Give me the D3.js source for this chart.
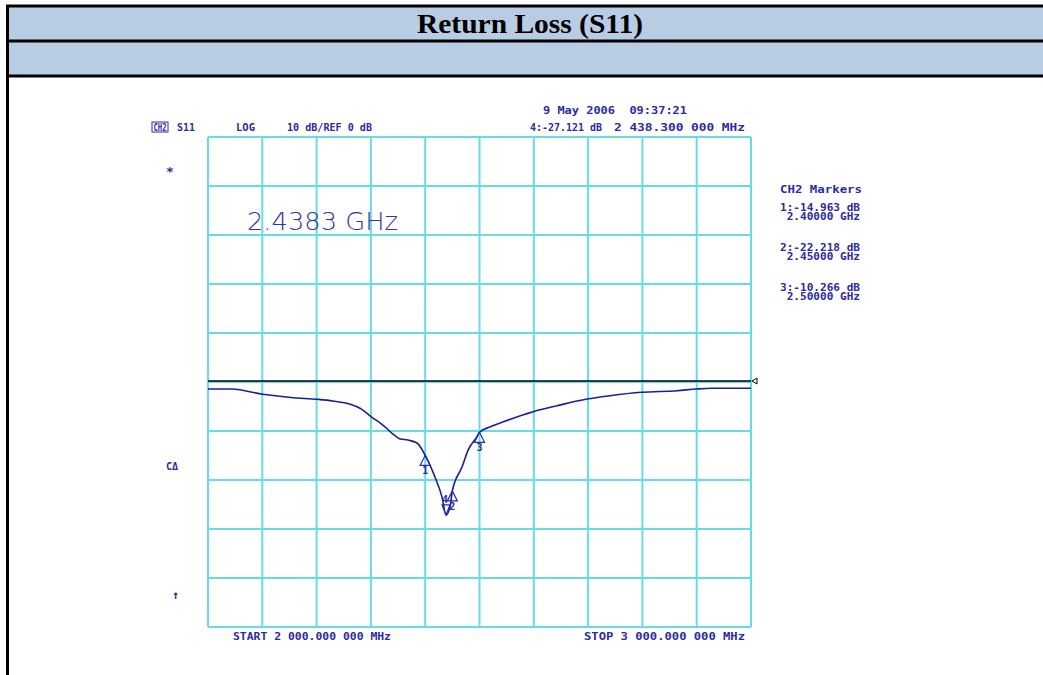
<!DOCTYPE html>
<html>
<head>
<meta charset="utf-8">
<script src="https://cdn.jsdelivr.net/npm/d3@7"></script>
<style>
  body { margin: 0; background: #fff; }
  text { white-space: pre; }
</style>
</head>
<body>
<div id="chart"></div>
<script>
// trace (GHz / dB)
var freqGHz = [2.000, 2.044, 2.101, 2.157, 2.201, 2.230, 2.262, 2.280, 2.302, 2.322, 2.339, 2.354,
  2.368, 2.385, 2.400, 2.418, 2.431, 2.4383, 2.4457, 2.450, 2.468, 2.479, 2.495, 2.500, 2.519,
  2.543, 2.599, 2.643, 2.698, 2.740, 2.799, 2.864, 2.900, 2.928, 3.000];
var s11dB = [-1.43, -1.43, -2.51, -3.20, -3.53, -3.88, -4.55, -5.37, -7.20, -8.78, -10.47, -11.63,
  -11.84, -12.45, -14.963, -19.4, -23.5, -27.121, -25.5, -22.218, -17.3, -13.9, -11.2, -10.266, -9.18,
  -8.16, -6.06, -4.84, -3.47, -2.80, -2.10, -1.78, -1.43, -1.29, -1.29];

var markerIds = ["1", "2", "3"];
var markerFreq = [2.40, 2.45, 2.50];
var markerDb = [-14.963, -22.218, -10.266];
var activeMarker = { id: "4", freq: 2.4383, db: -27.121 };

var gridFreq = [2.0, 2.1, 2.2, 2.3, 2.4, 2.5, 2.6, 2.7, 2.8, 2.9, 3.0];
var gridDb = [50, 40, 30, 20, 10, 0, -10, -20, -30, -40, -50];

var markerLines = [
  ["1:-14.963 dB", " 2.40000 GHz"],
  ["2:-22.218 dB", " 2.45000 GHz"],
  ["3:-10.266 dB", " 2.50000 GHz"]
];

var width = 1043, height = 675;
var blue = "#2a2aa6";
var mono = "'DejaVu Sans Mono', monospace";

var svg = d3.select("#chart").append("svg").attr("width", width).attr("height", height);

// table header
svg.append("rect").attr("x", 7).attr("y", 6).attr("width", 1040).attr("height", 70).attr("fill", "#b8cce4");
svg.append("text").attr("x", 417).attr("y", 33)
  .attr("textLength", 226).attr("lengthAdjust", "spacingAndGlyphs")
  .style("font-family", "'Liberation Serif', serif").style("font-weight", "bold").style("font-size", "27px")
  .text("Return Loss (S11)");
[6, 41, 76].forEach(function(yy) {
  svg.append("line").attr("x1", 6).attr("x2", 1043).attr("y1", yy).attr("y2", yy)
    .attr("stroke", "#000").attr("stroke-width", 3);
});
svg.append("line").attr("x1", 7.5).attr("x2", 7.5).attr("y1", 5).attr("y2", height)
  .attr("stroke", "#000").attr("stroke-width", 3);

// scales
var x = d3.scaleLinear().domain([2, 3]).range([208, 751]);
var y = d3.scaleLinear().domain([50, -50]).range([137, 627]);

// grid
var grid = svg.append("g").attr("stroke", "#66dde4").attr("stroke-width", 2);
grid.selectAll(".v").data(gridFreq).enter().append("line")
  .attr("x1", function(d) { return x(d); }).attr("x2", function(d) { return x(d); })
  .attr("y1", y(50)).attr("y2", y(-50));
grid.selectAll(".h").data(gridDb).enter().append("line")
  .attr("x1", x(2)).attr("x2", x(3))
  .attr("y1", function(d) { return y(d); }).attr("y2", function(d) { return y(d); });

// reference line
svg.append("line").attr("x1", x(2)).attr("x2", x(3)).attr("y1", y(0) - 1).attr("y2", y(0) - 1)
  .attr("stroke", "#000").attr("stroke-width", 1.3);
svg.append("path")
  .attr("d", "M" + (x(3) + 1) + "," + (y(0) - 1) + " l5,-3 v6 z")
  .attr("fill", "#fff").attr("stroke", "#000").attr("stroke-width", 1);

// trace
var line = d3.line()
  .x(function(d, i) { return x(freqGHz[i]); })
  .y(function(d) { return y(d); })
  .curve(d3.curveMonotoneX);
svg.append("path").datum(s11dB).attr("d", line)
  .attr("fill", "none").attr("stroke", "#1c1c9c").attr("stroke-width", 1.6);

// markers
var mk = svg.append("g");
markerIds.forEach(function(id, i) {
  var mx = x(markerFreq[i]), my = y(markerDb[i]);
  mk.append("path").attr("d", "M" + mx + "," + my + " l-5,10 h10 z")
    .attr("fill", "none").attr("stroke", blue).attr("stroke-width", 1.2);
  mk.append("text").attr("x", mx).attr("y", my + 19).attr("text-anchor", "middle")
    .style("font-family", mono).style("font-size", "10px").style("font-weight", "bold")
    .attr("fill", blue).text(id);
});
var ax = x(activeMarker.freq), ay = y(activeMarker.db);
mk.append("path").attr("d", "M" + ax + "," + ay + " l-4,-10 h8 z")
  .attr("fill", "none").attr("stroke", blue).attr("stroke-width", 1.2);
mk.append("text").attr("x", ax - 1).attr("y", ay - 12).attr("text-anchor", "middle")
  .style("font-family", mono).style("font-size", "10px").style("font-weight", "bold")
  .attr("fill", blue).text(activeMarker.id);

// instrument annotations
function label(tx, ty, str, size, len) {
  var t = svg.append("text").attr("x", tx).attr("y", ty).attr("fill", blue)
    .style("font-family", mono).style("font-size", size + "px").style("font-weight", "bold").text(str);
  if (len) t.attr("textLength", len).attr("lengthAdjust", "spacingAndGlyphs");
  return t;
}
label(543, 114, "9 May 2006  09:37:21", 11, 144);
svg.append("rect").attr("x", 152).attr("y", 122).attr("width", 16).attr("height", 10)
  .attr("fill", "none").attr("stroke", blue).attr("stroke-width", 1);
label(153.5, 131, "CH2", 10, 13);
label(177, 131, "S11", 10, 18);
label(236, 131, "LOG", 10, 19);
label(287, 131, "10 dB/REF 0 dB", 10, 85);
label(530, 131, "4:-27.121 dB", 10, 72);
label(614, 131, "2 438.300 000 MHz", 10, 131);

label(247, 230, "2.4383 GHz", 24, 151)
  .style("font-family", "'DejaVu Sans ExtraLight', 'DejaVu Sans', sans-serif")
  .style("font-weight", "200").attr("fill", "#3434b0");

label(780, 193, "CH2 Markers", 10, 82);
markerLines.forEach(function(pair, i) {
  label(780, 211 + i * 40, pair[0], 10, 80);
  label(780, 220 + i * 40, pair[1], 10, 80);
});

label(166, 176, "*", 13);
label(166, 470, "C\u0394", 10);
label(172, 599, "\u2191", 12);

label(233, 640, "START 2 000.000 000 MHz", 10, 158);
label(584, 640, "STOP 3 000.000 000 MHz", 10, 161);
</script>
</body>
</html>
